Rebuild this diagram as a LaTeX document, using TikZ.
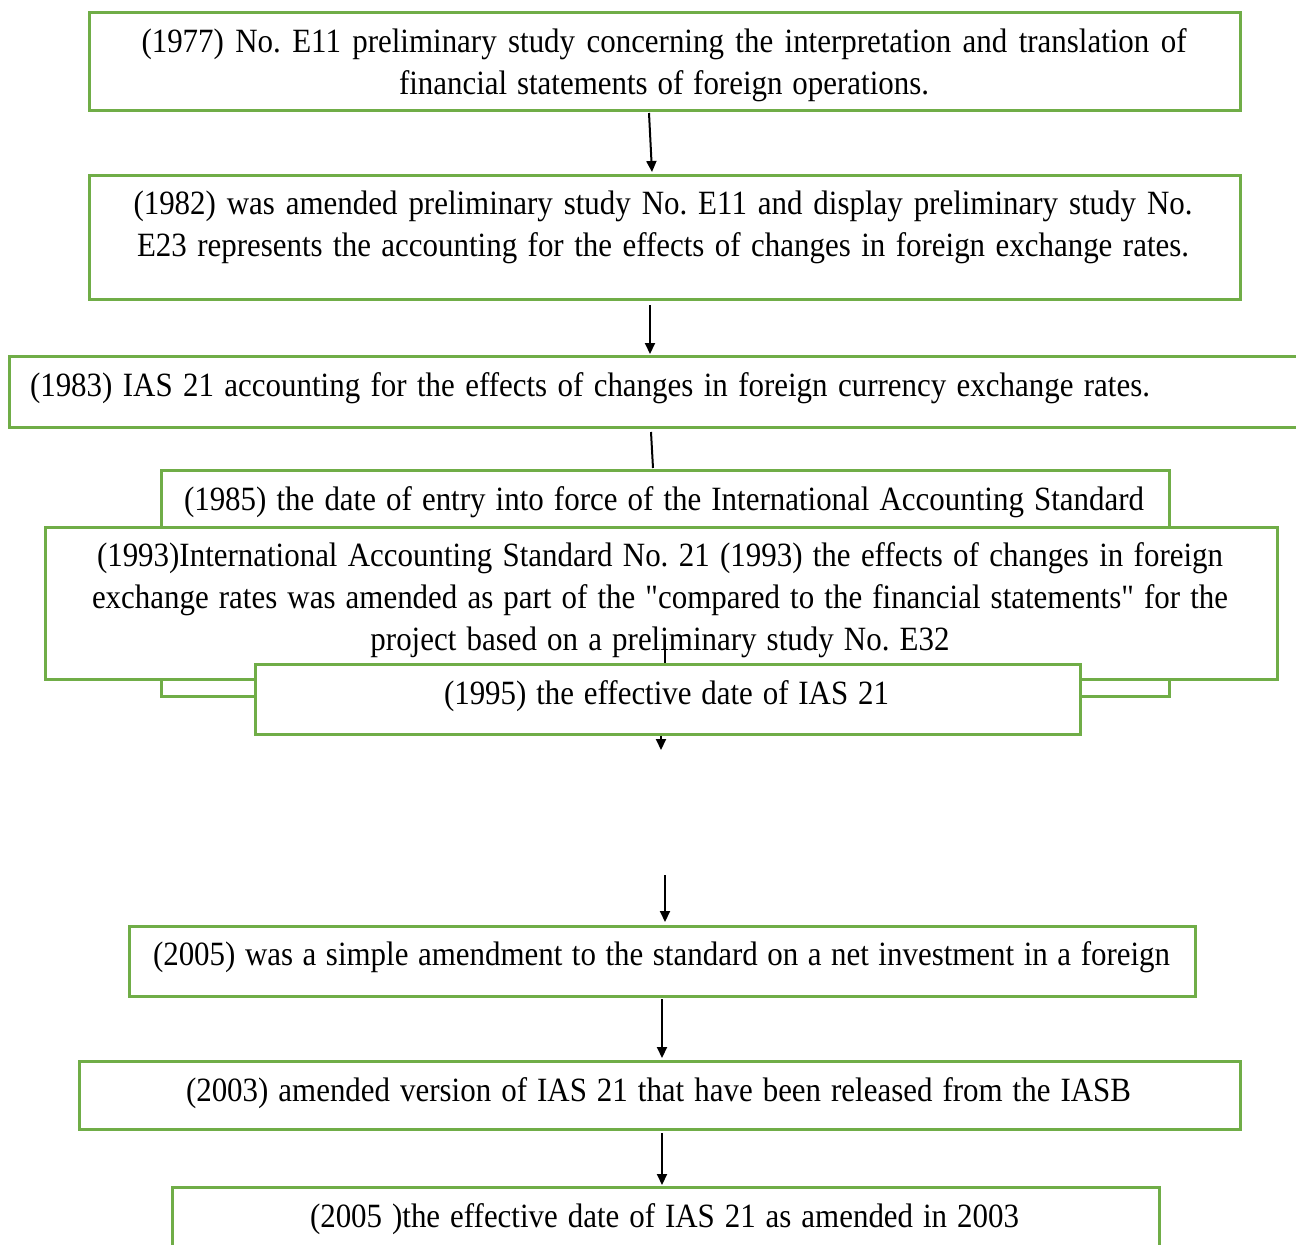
\documentclass[tikz,border=0pt]{standalone}
\usepackage{fontspec}
\setmainfont{Liberation Serif}[FakeStretch=0.91,Ligatures=TeXOff]
\usetikzlibrary{arrows.meta}
\definecolor{boxgreen}{HTML}{70AD47}
\newcommand{\jl}[2]{\makebox[#1][s]{#2}}
\frenchspacing
\begin{document}
\begin{tikzpicture}[x=1pt,y=-1pt,
  gbox/.style={draw=boxgreen,line width=3pt,fill=white,rectangle,inner sep=0pt,outer sep=0pt},
  txt/.style={inner sep=0pt,outer sep=0pt,align=center,font=\frenchspacing\fontsize{34}{42}\selectfont},
  arr/.style={line width=2pt,-{Triangle[length=11pt,width=10pt]}},
  plain/.style={line width=2pt}]
\useasboundingbox (0,0) rectangle (1296,1245);
% boxes
\node[gbox,minimum width=1151pt,minimum height=98pt] (b1) at (664.5,61) {};
\node[txt] (t1) at (664,65) {\jl{1045pt}{(1977) No. E11 preliminary study concerning the interpretation and translation of}\\\jl{530pt}{financial statements of foreign operations.}};
\node[gbox,minimum width=1151pt,minimum height=124pt] (b2) at (664.5,237) {};
\node[txt] (t2) at (663,227) {\jl{1059pt}{(1982) was amended preliminary study No. E11 and display preliminary study No.}\\\jl{1052pt}{E23 represents the accounting for the effects of changes in foreign exchange rates.}};
\node[gbox,minimum width=1301pt,minimum height=71pt] (b3) at (659.5,391.5) {};
\node[txt,anchor=west] (t3) at (30,388) {\jl{1120pt}{(1983) IAS 21 accounting for the effects of changes in foreign currency exchange rates.}};
\node[gbox,minimum width=1008pt,minimum height=226pt] (b4) at (665,583) {};
\node[txt] (t4) at (664,502) {\jl{960pt}{(1985) the date of entry into force of the International Accounting Standard}};
\node[gbox,minimum width=1232pt,minimum height=152pt] (b5) at (661,603) {};
\node[txt] (t5) at (660,600) {\jl{1126pt}{(1993)International Accounting Standard No. 21 (1993) the effects of changes in foreign}\\\jl{1136pt}{exchange rates was amended as part of the "compared to the financial statements" for the}\\\jl{579pt}{project based on a preliminary study No. E32}};
\node[gbox,minimum width=825pt,minimum height=70pt] (b6) at (667.5,699) {};
\node[txt] (t6) at (666.5,696) {\jl{445pt}{(1995) the effective date of IAS 21}};
\node[gbox,minimum width=1066pt,minimum height=70pt] (b7) at (662,961) {};
\node[txt] (t7) at (661.5,957) {\jl{1017pt}{(2005) was a simple amendment to the standard on a net investment in a foreign}};
\node[gbox,minimum width=1161pt,minimum height=68pt] (b8) at (659.5,1095) {};
\node[txt] (t8) at (658.5,1093) {\jl{945pt}{(2003) amended version of IAS 21 that have been released from the IASB}};
\node[gbox,minimum width=987pt,minimum height=70pt] (b9) at (665.5,1222) {};
\node[txt] (t9) at (664.5,1219) {\jl{709pt}{(2005 )the effective date of IAS 21 as amended in 2003}};
% connector end points
\coordinate (a1s) at (649,113); \coordinate (a1e) at (652,172);
\coordinate (a2s) at (650,305); \coordinate (a2e) at (650,354);
\coordinate (a3s) at (651,432); \coordinate (a3e) at (653,468);
\coordinate (a4s) at (665,636); \coordinate (a4e) at (665,663);
\coordinate (a5s) at (661,736); \coordinate (a5e) at (661,750);
\coordinate (a6s) at (665,875); \coordinate (a6e) at (665,922);
\coordinate (a7s) at (662,999); \coordinate (a7e) at (662,1058);
\coordinate (a8s) at (662,1133); \coordinate (a8e) at (662,1185);
\draw[arr] (a1s) -- (a1e);
\draw[arr] (a2s) -- (a2e);
\draw[plain] (a3s) -- (a3e);
\draw[plain] (a4s) -- (a4e);
\draw[arr] (a5s) -- (a5e);
\draw[arr] (a6s) -- (a6e);
\draw[arr] (a7s) -- (a7e);
\draw[arr] (a8s) -- (a8e);
\end{tikzpicture}
\end{document}
